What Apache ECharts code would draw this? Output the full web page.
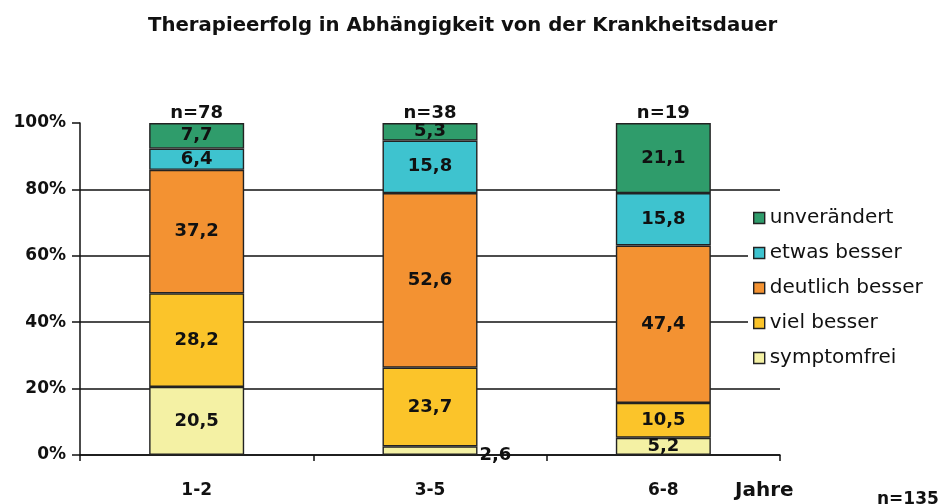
<!DOCTYPE html>
<html>
<head>
<meta charset="utf-8">
<script src="https://cdn.jsdelivr.net/npm/echarts@6/dist/echarts.min.js"></script>
<style>
html,body{margin:0;padding:0;background:#fff;}
#chart{width:940px;height:504px;}
</style>
</head>
<body>
<div id="chart"></div>
<script>
// Krankheitsdauer (Jahre)
var categories = ['1-2', '3-5', '6-8'];
var nValues = [78, 38, 19];

// Anteile in %, von unten nach oben gestapelt
var symptomfrei = [20.5, 2.6, 5.2];
var vielBesser = [28.2, 23.7, 10.5];
var deutlichBesser = [37.2, 52.6, 47.4];
var etwasBesser = [6.4, 15.8, 15.8];
var unveraendert = [7.7, 5.3, 21.1];

var yTicks = [0, 20, 40, 60, 80, 100];

var FONT = 'DejaVu Sans, Verdana, sans-serif';

var fmt = function (p) {
    return p.value.toFixed(1).replace('.', ',');
};

function barSeries(name, data, color) {
    return {
        name: name,
        type: 'bar',
        stack: 'total',
        barWidth: 95,
        data: data,
        itemStyle: { color: color, borderColor: '#222', borderWidth: 1.4 },
        label: {
            show: true,
            position: 'inside',
            formatter: fmt,
            color: '#111',
            fontSize: 18,
            fontWeight: 'bold',
            fontFamily: FONT
        }
    };
}

// kleiner Wert bei 3-5 steht rechts neben dem Balken
var symptomfreiData = symptomfrei.map(function (v) {
    return v < 4 ? { value: v, label: { position: 'right', distance: 2, offset: [0, 5] } } : v;
});

var chart = echarts.init(document.getElementById('chart'));
var options = {
    animation: false,
    title: {
        text: 'Therapieerfolg in Abhängigkeit von der Krankheitsdauer',
        left: 143,
        top: 11,
        textStyle: {
            fontSize: 19.7,
            fontWeight: 'bold',
            color: '#111',
            fontFamily: FONT
        }
    },
    grid: { left: 80, right: 160, top: 123, bottom: 49, containLabel: false },
    legend: {
        orient: 'vertical',
        left: 748,
        top: 203,
        padding: 5,
        backgroundColor: '#fff',
        itemWidth: 11,
        itemHeight: 11,
        itemGap: 15,
        icon: 'rect',
        data: ['unverändert', 'etwas besser', 'deutlich besser', 'viel besser', 'symptomfrei'],
        itemStyle: { borderColor: '#222', borderWidth: 1.4 },
        textStyle: { fontSize: 20, lineHeight: 20, color: '#111', fontFamily: FONT }
    },
    xAxis: {
        type: 'category',
        data: categories,
        axisLine: { lineStyle: { color: '#111', width: 1.5 } },
        axisTick: { show: true, length: 6, lineStyle: { color: '#111', width: 1.5 } },
        axisLabel: {
            margin: 27,
            color: '#111',
            fontSize: 17,
            fontWeight: 'bold',
            fontFamily: FONT
        }
    },
    yAxis: {
        type: 'value',
        min: yTicks[0],
        max: yTicks[yTicks.length - 1],
        interval: 20,
        axisLine: { show: true, lineStyle: { color: '#111', width: 1.5 } },
        axisTick: { show: true, length: 8, lineStyle: { color: '#111', width: 1.5 } },
        splitLine: { show: true, showMaxLine: false, lineStyle: { color: '#111', width: 1.5 } },
        axisLabel: {
            margin: 14,
            formatter: '{value}%',
            color: '#111',
            fontSize: 17,
            fontWeight: 'bold',
            fontFamily: FONT
        }
    },
    graphic: [
        {
            type: 'text', left: 735, top: 481,
            style: { text: 'Jahre', fill: '#111', font: 'bold 20px ' + FONT }
        },
        {
            type: 'text', left: 877, top: 491,
            style: { text: 'n=135', fill: '#111', font: 'bold 17px ' + FONT }
        }
    ],
    series: [
        barSeries('symptomfrei', symptomfreiData, '#F4F1A4'),
        barSeries('viel besser', vielBesser, '#FBC42A'),
        barSeries('deutlich besser', deutlichBesser, '#F39232'),
        barSeries('etwas besser', etwasBesser, '#3EC3CF'),
        barSeries('unverändert', unveraendert, '#2F9C6B'),
        {
            name: 'n',
            type: 'scatter',
            symbolSize: 0,
            itemStyle: { opacity: 1 },
            data: nValues.map(function () { return 100; }),
            label: {
                show: true,
                position: 'top',
                distance: 1,
                formatter: function (p) { return 'n=' + nValues[p.dataIndex]; },
                color: '#111',
                fontSize: 18,
                fontWeight: 'bold',
                fontFamily: FONT
            }
        }
    ]
};
chart.setOption(options);
</script>
</body>
</html>
